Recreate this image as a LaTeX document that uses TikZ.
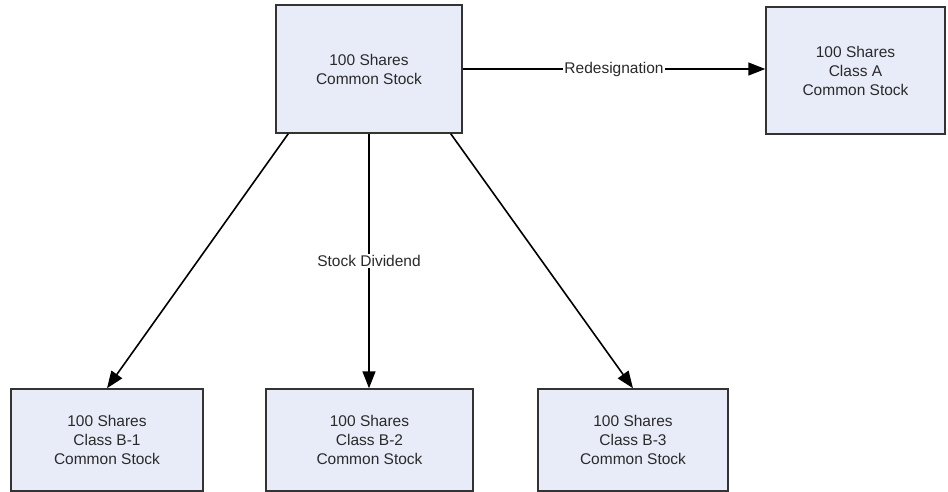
\documentclass[tikz,border=0pt]{standalone}
\usepackage{fontspec}
\setmainfont{Liberation Sans}
\usetikzlibrary{arrows.meta}
\definecolor{boxfill}{HTML}{E8ECF8}
\definecolor{boxline}{HTML}{333333}
\definecolor{txt}{HTML}{2A2A2A}
\begin{document}
\begin{tikzpicture}[x=1pt,y=-1pt,
  box/.style={draw=boxline,fill=boxfill,line width=1.5pt,align=center,text=txt,
    font=\fontsize{15.5}{19}\selectfont,inner sep=0pt},
  conn/.style={line width=1.6pt,-{Triangle[length=17pt,width=13pt]}},
  lbl/.style={fill=white,text=txt,font=\fontsize{15.5}{19}\selectfont,inner sep=1pt}]
\useasboundingbox (0,0) rectangle (948,491);
\node[box,minimum width=186pt,minimum height=128pt] (top) at (369,69) {100 Shares\\Common Stock};
\node[box,minimum width=179pt,minimum height=127pt] (a) at (855.5,70.5) {100 Shares\\Class A\\Common Stock};
\node[box,minimum width=192pt,minimum height=102pt] (b1) at (107,440) {100 Shares\\Class B-1\\Common Stock};
\node[box,minimum width=207pt,minimum height=102pt] (b2) at (369.5,440) {100 Shares\\Class B-2\\Common Stock};
\node[box,minimum width=190pt,minimum height=102pt] (b3) at (633,440) {100 Shares\\Class B-3\\Common Stock};
\draw[conn] (top.east) -- node[lbl] {Redesignation} (top.east -| a.west);
\draw[conn] ([xshift=13pt]top.south west) -- (b1.north);
\draw[conn] (top.south) -- node[lbl] {Stock Dividend} (top.south |- b2.north);
\draw[conn] ([xshift=-12pt]top.south east) -- (b3.north);
\end{tikzpicture}
\end{document}
